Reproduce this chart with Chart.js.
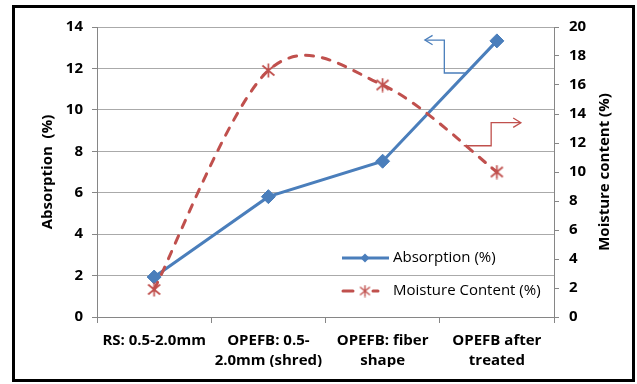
<!DOCTYPE html>
<html><head><meta charset="utf-8">
<script src="https://cdn.jsdelivr.net/npm/chart.js@4"></script>
<style>html,body{margin:0;padding:0;background:#fff;}canvas{display:block;}</style>
</head><body>
<canvas id="c" width="637" height="384"></canvas>
<script>
// ---- data ----
const categories = [["RS: 0.5-2.0mm"], ["OPEFB: 0.5-", "2.0mm (shred)"], ["OPEFB: fiber", "shape"], ["OPEFB after", "treated"]];
const absorption = [1.93, 5.81, 7.52, 13.33];
const moisture = [1.9, 17.0, 16.0, 10.0];
const leftTicks = [0, 2, 4, 6, 8, 10, 12, 14];
const rightTicks = [0, 2, 4, 6, 8, 10, 12, 14, 16, 18, 20];
const seriesNames = ["Absorption (%)", "Moisture Content (%)"];
const leftTitle = "Absorption  (%)";
const rightTitle = "Moisture content (%)";
// annotation arrows in data coordinates [categoryIndex, value]
const blueArrow = [[2.72, 11.78], [2.54, 11.78], [2.54, 13.37], [2.37, 13.37]];
const redArrow = [[2.71, 11.81], [2.95, 11.81], [2.95, 13.4], [3.21, 13.4]];

const BLUE = '#4a7ebb', RED = '#c0504d';
const FONT = '"Open Sans"';

function makeStar(size, lw) {
  const cv = document.createElement('canvas');
  cv.width = size; cv.height = size;
  const g = cv.getContext('2d');
  g.strokeStyle = RED; g.lineWidth = lw;
  const m = 1.5, s = size;
  g.beginPath();
  g.moveTo(m, m + 1); g.lineTo(s - m, s - m - 1);
  g.moveTo(s - m, m + 1); g.lineTo(m, s - m - 1);
  g.moveTo(s / 2, 0.5); g.lineTo(s / 2, s - 0.5);
  g.stroke();
  return cv;
}
const starImg = makeStar(15, 1.7);
const starSmall = makeStar(13, 1.4);

// Excel-like smoothing: Catmull-Rom control points (uniform, 1/6)
const smoothPlugin = {
  id: 'smooth',
  beforeDatasetsDraw(chart) {
    chart.data.datasets.forEach((ds, i) => {
      if (!ds.excelSmooth) return;
      const meta = chart.getDatasetMeta(i);
      const line = meta.dataset;
      line.updateControlPoints(chart.chartArea);
      const pts = meta.data;
      for (let k = 0; k < pts.length; k++) {
        const p = pts[k], pr = pts[k - 1] || p, nx = pts[k + 1] || p;
        const dx = (nx.x - pr.x) / 6, dy = (nx.y - pr.y) / 6;
        p.cp1x = p.x - dx; p.cp1y = p.y - dy;
        p.cp2x = p.x + dx; p.cp2y = p.y + dy;
      }
    });
  }
};

const framePlugin = {
  id: 'frame',
  beforeDraw(chart) {
    const ctx = chart.ctx;
    ctx.save();
    ctx.fillStyle = '#fff';
    ctx.fillRect(0, 0, chart.width, chart.height);
    ctx.restore();
  },
  afterDraw(chart) {
    const ctx = chart.ctx;
    ctx.save();
    ctx.strokeStyle = '#000';
    ctx.lineWidth = 3;
    ctx.strokeRect(13.5, 6.5, 620, 374);
    const a = chart.chartArea;
    ctx.fillStyle = '#000';
    ctx.font = 'bold 15px ' + FONT;
    ctx.textAlign = 'center';
    ctx.textBaseline = 'middle';
    ctx.translate(605, (a.top + a.bottom) / 2);
    ctx.rotate(-Math.PI / 2);
    ctx.fillText(rightTitle, 0, 0);
    ctx.restore();
  }
};

function drawArrow(ctx, pts, color) {
  ctx.save();
  ctx.strokeStyle = color; ctx.lineWidth = 1.3;
  ctx.beginPath();
  pts.forEach((p, i) => i ? ctx.lineTo(p[0], p[1]) : ctx.moveTo(p[0], p[1]));
  ctx.stroke();
  const n = pts.length;
  const [x1, y1] = pts[n - 2], [x2, y2] = pts[n - 1];
  const ang = Math.atan2(y2 - y1, x2 - x1);
  const L = 9, W = 0.55;
  ctx.beginPath();
  ctx.moveTo(x2 - L * Math.cos(ang - W), y2 - L * Math.sin(ang - W));
  ctx.lineTo(x2, y2);
  ctx.lineTo(x2 - L * Math.cos(ang + W), y2 - L * Math.sin(ang + W));
  ctx.stroke();
  ctx.restore();
}

const annotPlugin = {
  id: 'annot',
  afterDatasetsDraw(chart) {
    const ctx = chart.ctx, x = chart.scales.x, y = chart.scales.y, y2 = chart.scales.y2;
    drawArrow(ctx, blueArrow.map(p => [x.getPixelForValue(p[0]), y.getPixelForValue(p[1])]), BLUE);
    drawArrow(ctx, redArrow.map(p => [x.getPixelForValue(p[0]), y2.getPixelForValue(p[1])]), RED);

    // legend
    const a = chart.chartArea;
    const lx = a.left + 245, ly1 = 258, ly2 = 291;
    ctx.save();
    ctx.lineWidth = 3;
    ctx.strokeStyle = BLUE;
    ctx.beginPath(); ctx.moveTo(lx, ly1); ctx.lineTo(lx + 47, ly1); ctx.stroke();
    ctx.fillStyle = BLUE;
    ctx.beginPath();
    const cx = lx + 23, r = 4.5;
    ctx.moveTo(cx, ly1 - r); ctx.lineTo(cx + r, ly1); ctx.lineTo(cx, ly1 + r); ctx.lineTo(cx - r, ly1); ctx.closePath(); ctx.fill();
    ctx.strokeStyle = RED;
    ctx.lineCap = 'round';
    ctx.beginPath(); ctx.moveTo(lx + 1, ly2); ctx.lineTo(lx + 11, ly2); ctx.moveTo(lx + 31, ly2); ctx.lineTo(lx + 36, ly2); ctx.stroke();
    ctx.drawImage(starSmall, cx - 6.5, ly2 - 6.5);
    ctx.fillStyle = '#000';
    ctx.font = '15px ' + FONT;
    ctx.textAlign = 'left'; ctx.textBaseline = 'middle';
    ctx.fillText(chart.data.datasets[0].label, lx + 51, ly1);
    ctx.fillText(chart.data.datasets[1].label, lx + 51, ly2);
    ctx.restore();
  }
};

new Chart(document.getElementById('c'), {
  type: 'line',
  data: {
    labels: categories,
    datasets: [{
      label: seriesNames[0],
      data: absorption,
      yAxisID: 'y',
      borderColor: BLUE, backgroundColor: BLUE,
      borderWidth: 3,
      pointStyle: 'rectRot', pointRadius: 7, pointBorderWidth: 1,
      pointBackgroundColor: BLUE, pointBorderColor: BLUE,
      tension: 0, order: 2
    }, {
      label: seriesNames[1],
      data: moisture,
      yAxisID: 'y2',
      borderColor: RED, backgroundColor: RED,
      borderWidth: 3, borderDash: [8, 9], borderCapStyle: 'round',
      pointStyle: starImg, pointRadius: 7,
      tension: 0.4, excelSmooth: true, order: 1
    }]
  },
  options: {
    responsive: false,
    animation: false,
    events: [],
    layout: { padding: { left: 35, right: 20, top: 27, bottom: 17 } },
    plugins: { legend: { display: false }, tooltip: { enabled: false } },
    scales: {
      x: {
        type: 'category',
        offset: true,
        grid: { offset: true, drawOnChartArea: false, drawTicks: true, tickLength: 6, color: '#868686' },
        border: { color: '#868686', width: 1 },
        ticks: { color: '#000', font: { family: FONT, weight: 'bold', size: 15, lineHeight: 1.33 }, padding: 8, maxRotation: 0, autoSkip: false },
        afterFit(s) { s.height = 50; }
      },
      y: {
        position: 'left',
        min: 0, max: 14,
        afterBuildTicks(s) { s.ticks = leftTicks.map(v => ({ value: v })); },
        grid: { color: '#aaaaaa', tickColor: '#868686', tickLength: 5, drawTicks: true },
        border: { color: '#868686', width: 1 },
        ticks: { color: '#000', font: { family: FONT, weight: 'bold', size: 15 }, padding: 9 },
        title: { display: true, text: leftTitle, color: '#000', font: { family: FONT, weight: 'bold', size: 15 }, padding: { top: 4, bottom: 0 } },
        afterFit(s) { s.width = 62; }
      },
      y2: {
        position: 'right',
        min: 0, max: 20,
        afterBuildTicks(s) { s.ticks = rightTicks.map(v => ({ value: v })); },
        grid: { drawOnChartArea: false, color: '#868686', tickLength: 5, drawTicks: true },
        border: { color: '#868686', width: 1 },
        ticks: { color: '#000', font: { family: FONT, weight: 'bold', size: 15 }, padding: 10 },
        afterFit(s) { s.width = 63; }
      }
    }
  },
  plugins: [framePlugin, smoothPlugin, annotPlugin]
});
</script>
</body></html>
